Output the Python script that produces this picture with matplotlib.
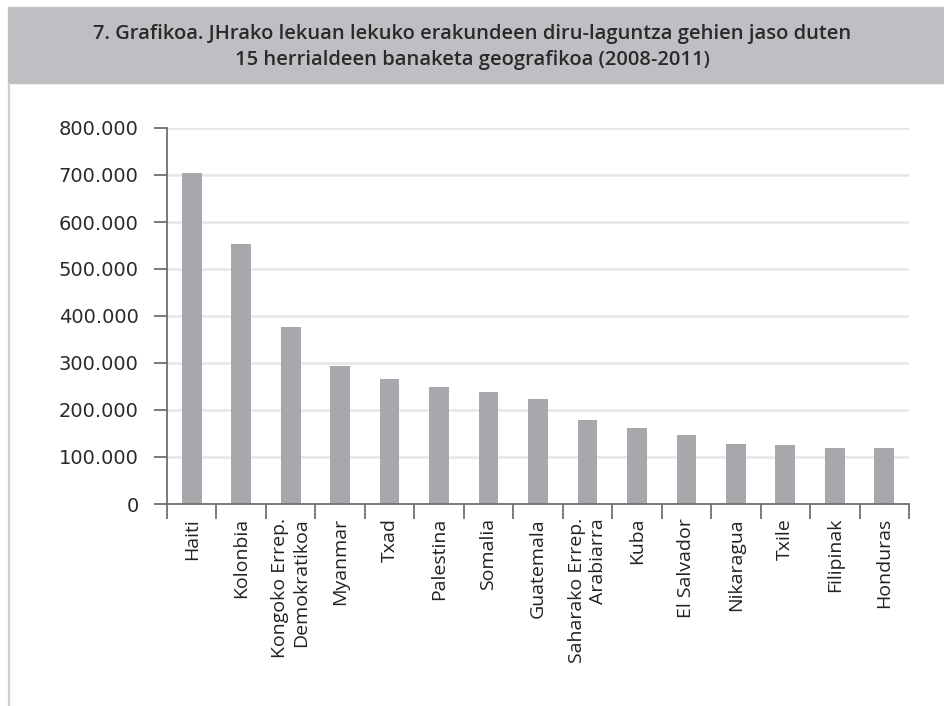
from matplotlib import pyplot as plt
from matplotlib.ticker import FuncFormatter, MultipleLocator
import numpy as np

countries = ['Haiti', 'Kolonbia', 'Kongoko Errep.\nDemokratikoa', 'Myanmar', 'Txad',
             'Palestina', 'Somalia', 'Guatemala', 'Saharako Errep.\nArabiarra', 'Kuba',
             'El Salvador', 'Nikaragua', 'Txile', 'Filipinak', 'Honduras']
amounts = [704000, 553000, 376000, 293000, 266000,
           249000, 238000, 223000, 179000, 161000,
           147000, 128000, 125000, 119000, 119000]
title_lines = ['7. Grafikoa. JHrako lekuan lekuko erakundeen diru-laguntza gehien jaso duten',
               '15 herrialdeen banaketa geografikoa (2008-2011)']


def thousands(v, pos):
    return '{:,.0f}'.format(v).replace(',', '.')


def main():
    fig = plt.figure(figsize=(9.45, 7.06), dpi=100)

    # grey title band and thin left frame line
    fig.patches.append(plt.Rectangle((8 / 945, 1 - 83 / 706), 1, 76 / 706,
                                     transform=fig.transFigure, color='#bebfc2', zorder=0))
    fig.lines.append(plt.Line2D([9.5 / 945, 9.5 / 945], [0, 1 - 83 / 706],
                                transform=fig.transFigure, color='#cfcfcf', lw=1.6))
    fig.text(0.5, 1 - 47 / 706, '\n'.join(title_lines), ha='center', va='center',
             fontsize=14.5, family=['Open Sans', 'DejaVu Sans'], fontweight='semibold',
             color='#2a2a2a', linespacing=1.35)

    ax = fig.add_axes([167 / 945, 1 - 504 / 706, 742 / 945, 376 / 706])
    x = np.arange(len(countries))
    ax.bar(x, amounts, width=0.4, color='#a7a8ab', zorder=2)

    ax.set_xlim(-0.5, len(countries) - 0.5)
    ax.set_ylim(0, 800000)
    ax.yaxis.set_major_locator(MultipleLocator(100000))
    ax.yaxis.set_major_formatter(FuncFormatter(thousands))
    ax.grid(axis='y', color='#e6e6e6', lw=1.8, zorder=0)

    ax.set_xticks(x)
    ax.set_xticklabels(countries, rotation=90, ha='center', va='top', multialignment='right',
                       fontsize=14, family=['Open Sans', 'DejaVu Sans'], color='#222222')
    ax.set_xticks(np.arange(-0.5, len(countries), 1), minor=True)
    ax.tick_params(axis='x', which='major', length=0, pad=10)
    ax.tick_params(axis='x', which='minor', length=11, width=1.3, color='#707070')
    ax.tick_params(axis='y', length=9.5, width=1.3, color='#707070', pad=11,
                   labelsize=14, labelcolor='#2a2a2a')

    for side in ['top', 'right']:
        ax.spines[side].set_visible(False)
    for side in ['left', 'bottom']:
        ax.spines[side].set_color('#707070')
        ax.spines[side].set_linewidth(1.3)

    fig.savefig('out.png', dpi=100)


if __name__ == '__main__':
    main()
